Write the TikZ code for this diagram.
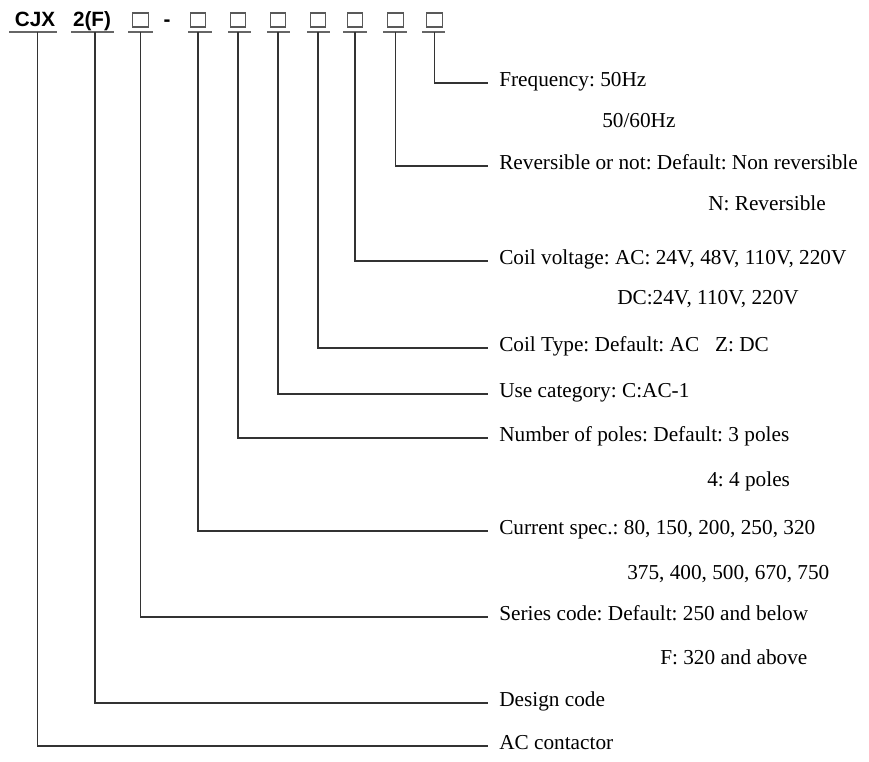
\documentclass[tikz,border=0pt]{standalone}
\usepackage{fontspec}
\setmainfont{Liberation Serif}
\newfontfamily\hdrfont{Liberation Sans}
\frenchspacing
\begin{document}
\frenchspacing
\begin{tikzpicture}[x=0.75pt,y=-0.75pt,
  conn/.style={draw=black!80, line width=0.8pt},
  uline/.style={draw=black!60, line width=1pt},
  lbl/.style={anchor=west, inner xsep=8.25pt, inner ysep=0pt,
    font=\frenchspacing\fontsize{15.95}{18}\selectfont, text height=0.72em, text depth=0.22em},
  hdr/.style={font=\hdrfont\bfseries\fontsize{15.5}{18}\selectfont, anchor=base, inner sep=0pt},
  cell/.style={draw=black!65, line width=0.9pt, minimum width=11.8pt,
    minimum height=10.5pt, inner sep=0pt}]
\useasboundingbox (0,0) rectangle (869,762);

% header
\node[hdr] (h1) at (35,27) {CJX};
\node[hdr] (h2) at (92,27) {2(F)};
\node[cell] (h3) at (140.5,20) {};
\node[hdr] (dash) at (167,27) {-};
\node[cell] (h4) at (198,20) {};
\node[cell] (h5) at (238,20) {};
\node[cell] (h6) at (278,20) {};
\node[cell] (h7) at (318,20) {};
\node[cell] (h8) at (355,20) {};
\node[cell] (h9) at (395.5,20) {};
\node[cell] (h10) at (434.5,20) {};

% underlines
\draw[uline] (9,32) -- (57,32);
\draw[uline] (71,32) -- (114,32);
\draw[uline] (128,32) -- (153,32);
\draw[uline] (188,32) -- (212,32);
\draw[uline] (228,32) -- (251,32);
\draw[uline] (267,32) -- (290,32);
\draw[uline] (307,32) -- (330,32);
\draw[uline] (343,32) -- (367,32);
\draw[uline] (383,32) -- (407,32);
\draw[uline] (422,32) -- (445,32);

% column starts
\coordinate (c1) at (37.5,32);
\coordinate (c2) at (95,32);
\coordinate (c3) at (140.5,32);
\coordinate (c4) at (198,32);
\coordinate (c5) at (238,32);
\coordinate (c6) at (278,32);
\coordinate (c7) at (318,32);
\coordinate (c8) at (355,32);
\coordinate (c9) at (395.5,32);
\coordinate (c10) at (434.5,32);

% labels
\node[lbl] (l10) at (488,83) {Frequency: 50Hz};
\node[lbl] (l10b) at (591,124) {50/60Hz};
\node[lbl] (l9) at (488,166) {Reversible or not: Default: Non reversible};
\node[lbl] (l9b) at (697,207) {N: Reversible};
\node[lbl] (l8) at (488,261) {Coil voltage: AC: 24V, 48V, 110V, 220V};
\node[lbl] (l8b) at (606,301) {DC:24V, 110V, 220V};
\node[lbl] (l7) at (488,348) {Coil Type: Default: AC\ \ \ Z: DC};
\node[lbl] (l6) at (488,394) {Use category: C:AC-1};
\node[lbl] (l5) at (488,438) {Number of poles: Default: 3 poles};
\node[lbl] (l5b) at (696,483) {4: 4 poles};
\node[lbl] (l4) at (488,531) {Current spec.: 80, 150, 200, 250, 320};
\node[lbl] (l4b) at (616,576) {375, 400, 500, 670, 750};
\node[lbl] (l3) at (488,617) {Series code: Default: 250 and below};
\node[lbl] (l3b) at (649,661) {F: 320 and above};
\node[lbl] (l2) at (488,703) {Design code};
\node[lbl] (l1) at (488,746) {AC contactor};

% connectors
\foreach \i in {1,...,10} {
  \draw[conn] (c\i) |- (l\i.west);
}
\end{tikzpicture}
\end{document}
